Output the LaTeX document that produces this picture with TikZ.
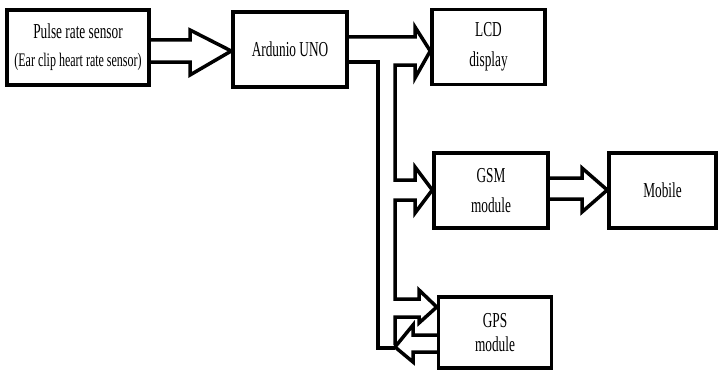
\documentclass[tikz,border=0pt]{standalone}
\usepackage{fontspec}
\setmainfont{Liberation Serif}
\usetikzlibrary{calc}

\newcommand{\tallt}[1]{\scalebox{1}[1.6]{#1}}

\begin{document}
\begin{tikzpicture}[x=1pt,y=-1pt,
  blk/.style={draw,line width=3.5pt,inner sep=0pt,minimum height=75pt,align=center,
    font=\fontsize{13.3}{30}\selectfont},
  fat/.style={line width=3.5pt,line join=miter}]
\useasboundingbox (0,0) rectangle (719,369);
% blocks
\node[blk,minimum width=142pt] (sen) at (78,47.5)
  {\tallt{Pulse rate sensor}\\[-2pt]\tallt{\fontsize{12}{14}\selectfont(Ear clip heart rate sensor)}};
\node[blk,minimum width=114pt] (ard) at (290,49.5) {\tallt{Ardunio UNO}};
\node[blk,minimum width=113pt] (lcd) at (488.5,47) {\tallt{LCD}\\\tallt{display}};
\node[blk,minimum width=114pt] (gsm) at (491,190.5) {\tallt{GSM}\\\tallt{module}};
\node[blk,minimum width=107pt] (mob) at (662.5,190.5) {\tallt{Mobile}};
\node[blk,minimum width=113pt,minimum height=71pt] (gps) at (495,332.5)
  {\tallt{GPS}\\[-6pt]\tallt{module}};
% hollow arrows
\draw[fat] (sen.east |- 0,40) -- (190,40) -- (190,30) -- (ard.west |- 0,51)
  -- (190,75) -- (190,62) -- (sen.east |- 0,62);
\draw[fat] (ard.east |- 0,37) -- (415,37) -- (415,27) -- (lcd.west |- 0,51)
  -- (415,78) -- (415,65) -- (395,65) -- (395,180) -- (415,180) -- (415,167)
  -- (gsm.west |- 0,190) -- (415,213) -- (415,200) -- (395,200) -- (395,299)
  -- (419,299) -- (419,290) -- (gps.west |- 0,307) -- (419,323) -- (419,317)
  -- (395,317) -- (395,345);
\draw[fat] (ard.east |- 0,62) -- (378,62) -- (378,348) -- (395,348);
\draw[fat] (gps.west |- 0,335) -- (413,335) -- (413,325) -- (395,347)
  -- (413,362) -- (413,352) -- (gps.west |- 0,352);
\draw[fat] (gsm.east |- 0,178) -- (582,178) -- (582,168) -- (mob.west |- 0,190)
  -- (582,212) -- (582,199) -- (gsm.east |- 0,199);
\end{tikzpicture}
\end{document}
